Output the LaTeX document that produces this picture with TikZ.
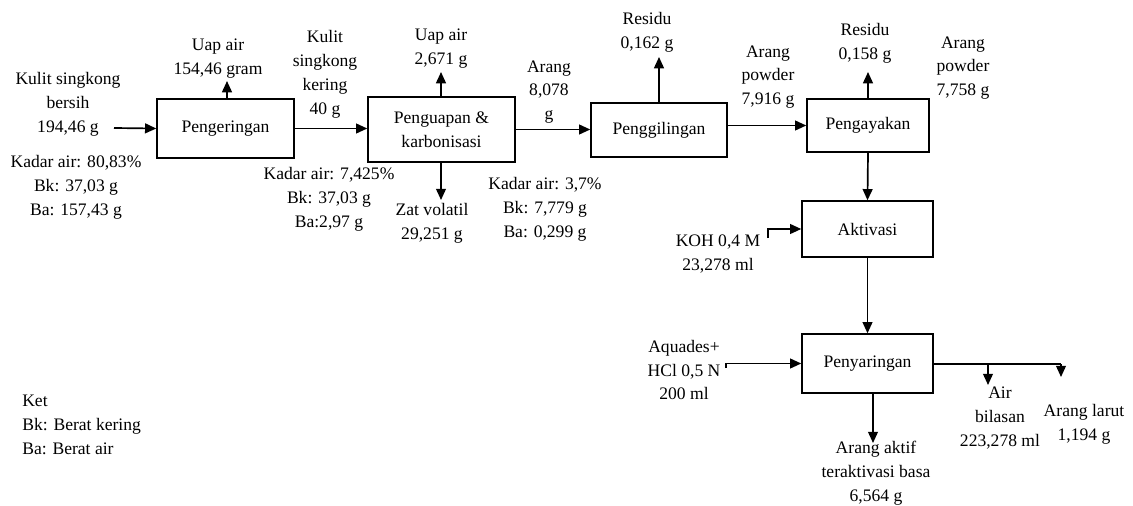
\documentclass[tikz,border=0pt]{standalone}
\usepackage{fontspec}
\setmainfont{Liberation Serif}
\usetikzlibrary{arrows.meta}
\begin{document}
\begin{tikzpicture}[x=0.025cm,y=-0.025cm,
    every node/.style={font=\fontsize{12.5}{17}\selectfont,align=center,inner sep=0pt},
    proc/.style={draw,line width=1pt,inner sep=2pt}]
      \useasboundingbox (0,0) rectangle (1133,506);
      % process boxes
      \draw
        (225.5,128.5) node[proc,minimum width=3.425cm,minimum height=1.475cm] (pengeringan){Pengeringan}
        (441.5,129.5) node[proc,minimum width=3.675cm,minimum height=1.625cm] (penguapan){Penguapan \&\\karbonisasi}
        (659,130) node[proc,minimum width=3.4cm,minimum height=1.35cm] (penggilingan){Penggilingan}
        (868,125.5) node[proc,minimum width=3.05cm,minimum height=1.325cm] (pengayakan){Pengayakan}
        (867.5,229) node[proc,minimum width=3.275cm,minimum height=1.4cm] (aktivasi){Aktivasi}
        (867.5,363.5) node[proc,minimum width=3.275cm,minimum height=1.475cm] (penyaringan){Penyaringan};
      % stream labels
      \draw
        (68,104) node (bersih){Kulit singkong\\bersih\\194,46 g}
        (76,187) node (bersihk){Kadar air: 80,83\%\\Bk: 37,03 g\\Ba: 157,43 g}
        (218,59) node (uap1){Uap air\\154,46 gram}
        (325,74) node (kering){Kulit\\singkong\\kering\\40 g}
        (329,199) node (keringk){Kadar air: 7,425\%\\Bk: 37,03 g\\Ba:2,97 g}
        (441,49) node (uap2){Uap air\\2,671 g}
        (432,223) node (volatil){Zat volatil\\29,251 g}
        (549,92) node (arang){Arang\\8,078\\g}
        (545,209) node (arangk){Kadar air: 3,7\%\\Bk: 7,779 g\\Ba: 0,299 g}
        (647,32) node (residu1){Residu\\0,162 g}
        (768,77) node (powder1){Arang\\powder\\7,916 g}
        (865,43) node (residu2){Residu\\0,158 g}
        (963,68) node (powder2){Arang\\powder\\7,758 g}
        (718,254) node (koh){KOH 0,4 M\\23,278 ml}
        (684,370) node (aquades){Aquades+\\HCl 0,5 N\\200 ml}
        (1000,418) node (bilasan){Air\\bilasan\\223,278 ml}
        (1084,424) node (larut){Arang larut\\1,194 g}
        (876,473) node (aktif){Arang aktif\\teraktivasi basa\\6,564 g}
        (22,425) node[anchor=west,align=left] (ket){Ket\\Bk: Berat kering\\Ba: Berat air};
      % free ends
      \coordinate (in0) at (114,128);
      \coordinate (u1) at (227,81);
      \coordinate (u2) at (441,72);
      \coordinate (v0) at (441,200);
      \coordinate (r1) at (659,57);
      \coordinate (r2) at (868,72);
      \coordinate (k0) at (768,238);
      \coordinate (a0) at (726,368);
      \coordinate (p0) at (873,443);
      \coordinate (s1) at (988,364);
      \coordinate (s2) at (1061,364);
      \coordinate (s1e) at (988,385);
      \coordinate (s2e) at (1061,377);
      \begin{scope}[line width=1.2pt,-{Triangle[length=8pt,width=7pt]}]
        \draw (in0) to (pengeringan.west);
        \draw (pengeringan.east) to (pengeringan.east -| penguapan.west);
        \draw (pengeringan.north -| u1) to (u1);
        \draw (penguapan.north -| u2) to (u2);
        \draw (penguapan.south -| v0) to (v0);
        \draw (penguapan.east) to (penguapan.east -| penggilingan.west);
        \draw (penggilingan.north -| r1) to (r1);
        \draw (penggilingan.east |- pengayakan.west) to (pengayakan.west);
        \draw (pengayakan.north -| r2) to (r2);
        \draw (pengayakan.south) to (aktivasi.north);
        \draw (k0) |- (aktivasi.west);
        \draw (aktivasi.south) to (penyaringan.north);
        \draw (a0) |- (penyaringan.west);
        \draw (penyaringan.south -| p0) to (p0);
        \draw[-] (penyaringan.east |- s2) to (s2);
        \draw (s1) to (s1e);
        \draw (s2) to (s2e);
      \end{scope}
    \end{tikzpicture}
\end{document}
